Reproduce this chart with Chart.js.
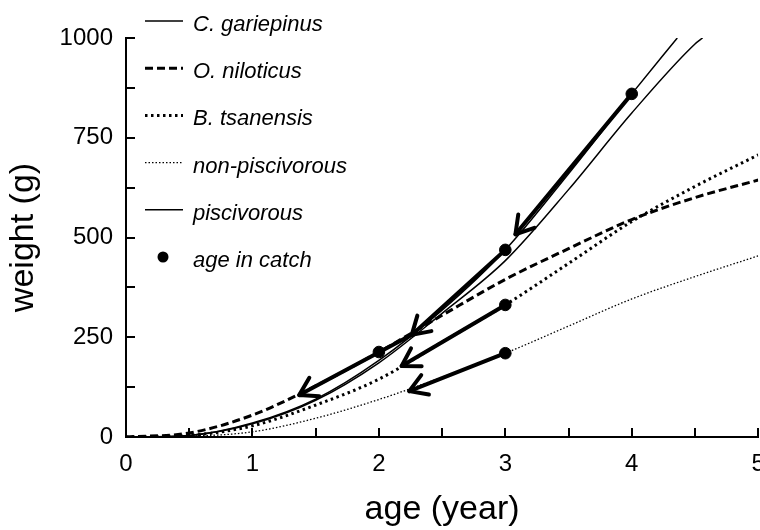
<!DOCTYPE html>
<html lang="en">
<head>
<meta charset="UTF-8">
<title>Weight at age</title>
<script src="https://cdn.jsdelivr.net/npm/chart.js"></script>
<style>
  body { margin: 0; background: #fff; overflow: hidden; }
  #wrap { width: 760px; height: 530px; overflow: hidden; }
</style>
</head>
<body>
<div id="wrap"><canvas id="growth" width="765" height="530"></canvas></div>
<script>
// weight-at-age curves (g)
const ages = [0, 0.5, 1, 1.5, 2, 2.5, 3, 3.5, 4, 4.5, 5];
const oNiloticus = [0, 10, 55, 128, 213, 305, 395, 472, 545, 600, 644];
const bTsanensis = [0, 4, 28, 80, 145, 238, 331, 435, 540, 628, 707];
const nonPiscivorous = [0, 2, 13, 47, 94, 150, 210, 278, 346, 402, 454];

// these two run off the top of the axis before age 5
const agesGariepinus = [0, 0.5, 1, 1.5, 2, 2.5, 3, 3.5, 4, 4.36];
const cGariepinus = [0, 4, 35, 95, 192, 318, 469, 660, 860, 1000];
const agesPiscivorous = [0, 0.5, 1, 1.5, 2, 2.5, 3, 3.5, 4, 4.5, 4.56];
const piscivorous = [0, 4, 33, 92, 186, 310, 442, 620, 812, 985, 1000];

// age in catch
const catchAge = [4, 3, 3, 3, 2];
const catchWeight = [860, 469, 331, 210, 213];

// back-calculation arrows, tail -> head
const arrowTailAge = [4, 3, 3, 3, 2.26];
const arrowTailWeight = [860, 469, 331, 210, 256];
const arrowHeadAge = [3.08, 2.26, 2.18, 2.24, 1.37];
const arrowHeadWeight = [508, 256, 178, 115, 105];

const FONT = '"Liberation Sans", Arial, sans-serif';

const xy = (xs, ys) => xs.map((x, i) => ({ x: x, y: ys[i] }));

function curve(label, xs, ys, width, dash) {
  return {
    label: label,
    data: xy(xs, ys),
    borderColor: '#000',
    borderWidth: width,
    borderDash: dash,
    pointRadius: 0,
    cubicInterpolationMode: 'monotone',
    order: 2
  };
}

const datasets = [
  curve('C. gariepinus', agesGariepinus, cGariepinus, 1.5, []),
  curve('O. niloticus', ages, oNiloticus, 3, [8, 4]),
  curve('B. tsanensis', ages, bTsanensis, 3, [2.5, 3.5]),
  curve('non-piscivorous', ages, nonPiscivorous, 1.3, [1.5, 2]),
  curve('piscivorous', agesPiscivorous, piscivorous, 1.5, []),
  {
    label: 'age in catch',
    data: xy(catchAge, catchWeight),
    showLine: false,
    pointRadius: 5.8,
    pointBackgroundColor: '#000',
    pointBorderColor: '#000',
    order: 0
  }
];

arrowTailAge.forEach((a, i) => {
  datasets.push({
    label: 'arrow',
    arrow: true,
    data: [{ x: a, y: arrowTailWeight[i] }, { x: arrowHeadAge[i], y: arrowHeadWeight[i] }],
    borderColor: '#000',
    borderWidth: 4,
    borderCapStyle: 'round',
    pointRadius: 0,
    order: 1
  });
});

// open V heads at the end of each arrow
const arrowHeads = {
  id: 'arrowHeads',
  afterDatasetsDraw(chart) {
    const ctx = chart.ctx;
    chart.data.datasets.forEach((ds, i) => {
      if (!ds.arrow) return;
      const pts = chart.getDatasetMeta(i).data;
      const tail = pts[0], head = pts[pts.length - 1];
      const ang = Math.atan2(tail.y - head.y, tail.x - head.x);
      ctx.save();
      ctx.strokeStyle = '#000';
      ctx.lineWidth = 4;
      ctx.lineCap = 'round';
      ctx.beginPath();
      [-0.55, 0.55].forEach(d => {
        ctx.moveTo(head.x, head.y);
        ctx.lineTo(head.x + 20 * Math.cos(ang + d), head.y + 20 * Math.sin(ang + d));
      });
      ctx.stroke();
      ctx.restore();
    });
  }
};

// legend list in the upper left
const keyLegend = {
  id: 'keyLegend',
  afterDraw(chart) {
    const ctx = chart.ctx;
    ctx.save();
    ctx.font = 'italic 22px ' + FONT;
    ctx.fillStyle = '#000';
    ctx.strokeStyle = '#000';
    for (let i = 0; i < 6; i++) {
      const ds = chart.data.datasets[i];
      const y = 21 + i * 47.2;
      if (ds.showLine === false) {
        ctx.beginPath();
        ctx.arc(163, y, 5.5, 0, Math.PI * 2);
        ctx.fill();
      } else {
        ctx.lineWidth = ds.borderWidth;
        ctx.setLineDash(ds.borderDash);
        ctx.beginPath();
        ctx.moveTo(145, y);
        ctx.lineTo(183, y);
        ctx.stroke();
        ctx.setLineDash([]);
      }
      ctx.fillText(ds.label, 193, y + 10);
    }
    ctx.restore();
  }
};

new Chart(document.getElementById('growth'), {
  type: 'line',
  data: { datasets: datasets },
  options: {
    responsive: false,
    animation: false,
    layout: { padding: { top: 38, right: 2, left: 0, bottom: 0 } },
    plugins: { legend: { display: false }, tooltip: { enabled: false } },
    scales: {
      x: {
        type: 'linear',
        min: 0,
        max: 5,
        border: { color: '#000', width: 2 },
        grid: { drawOnChartArea: false, color: '#000', lineWidth: 2, tickLength: -9 },
        ticks: {
          stepSize: 0.5,
          autoSkip: false,
          maxRotation: 0,
          padding: 22,
          color: '#000',
          font: { family: FONT, size: 24 },
          callback: v => Number.isInteger(v) ? v : ''
        },
        title: {
          display: true,
          text: 'age (year)',
          color: '#000',
          font: { family: FONT, size: 34 },
          padding: { top: 0, bottom: 0 }
        },
        afterFit(scale) {
          scale.height = 93;
          scale.paddingLeft = 0;
          scale.paddingRight = 0;
        }
      },
      y: {
        min: 0,
        max: 1000,
        border: { color: '#000', width: 2 },
        grid: { drawOnChartArea: false, color: '#000', lineWidth: 2, tickLength: -9 },
        ticks: {
          stepSize: 125,
          autoSkip: false,
          padding: 22,
          color: '#000',
          font: { family: FONT, size: 24 },
          callback: v => v % 250 === 0 ? v : ''
        },
        title: {
          display: true,
          text: 'weight (g)',
          color: '#000',
          font: { family: FONT, size: 34 },
          padding: { top: 3, bottom: 0 }
        },
        afterFit(scale) {
          scale.width = 126;
          scale.paddingTop = 0;
          scale.paddingBottom = 0;
        }
      }
    }
  },
  plugins: [arrowHeads, keyLegend]
});
</script>
</body>
</html>
